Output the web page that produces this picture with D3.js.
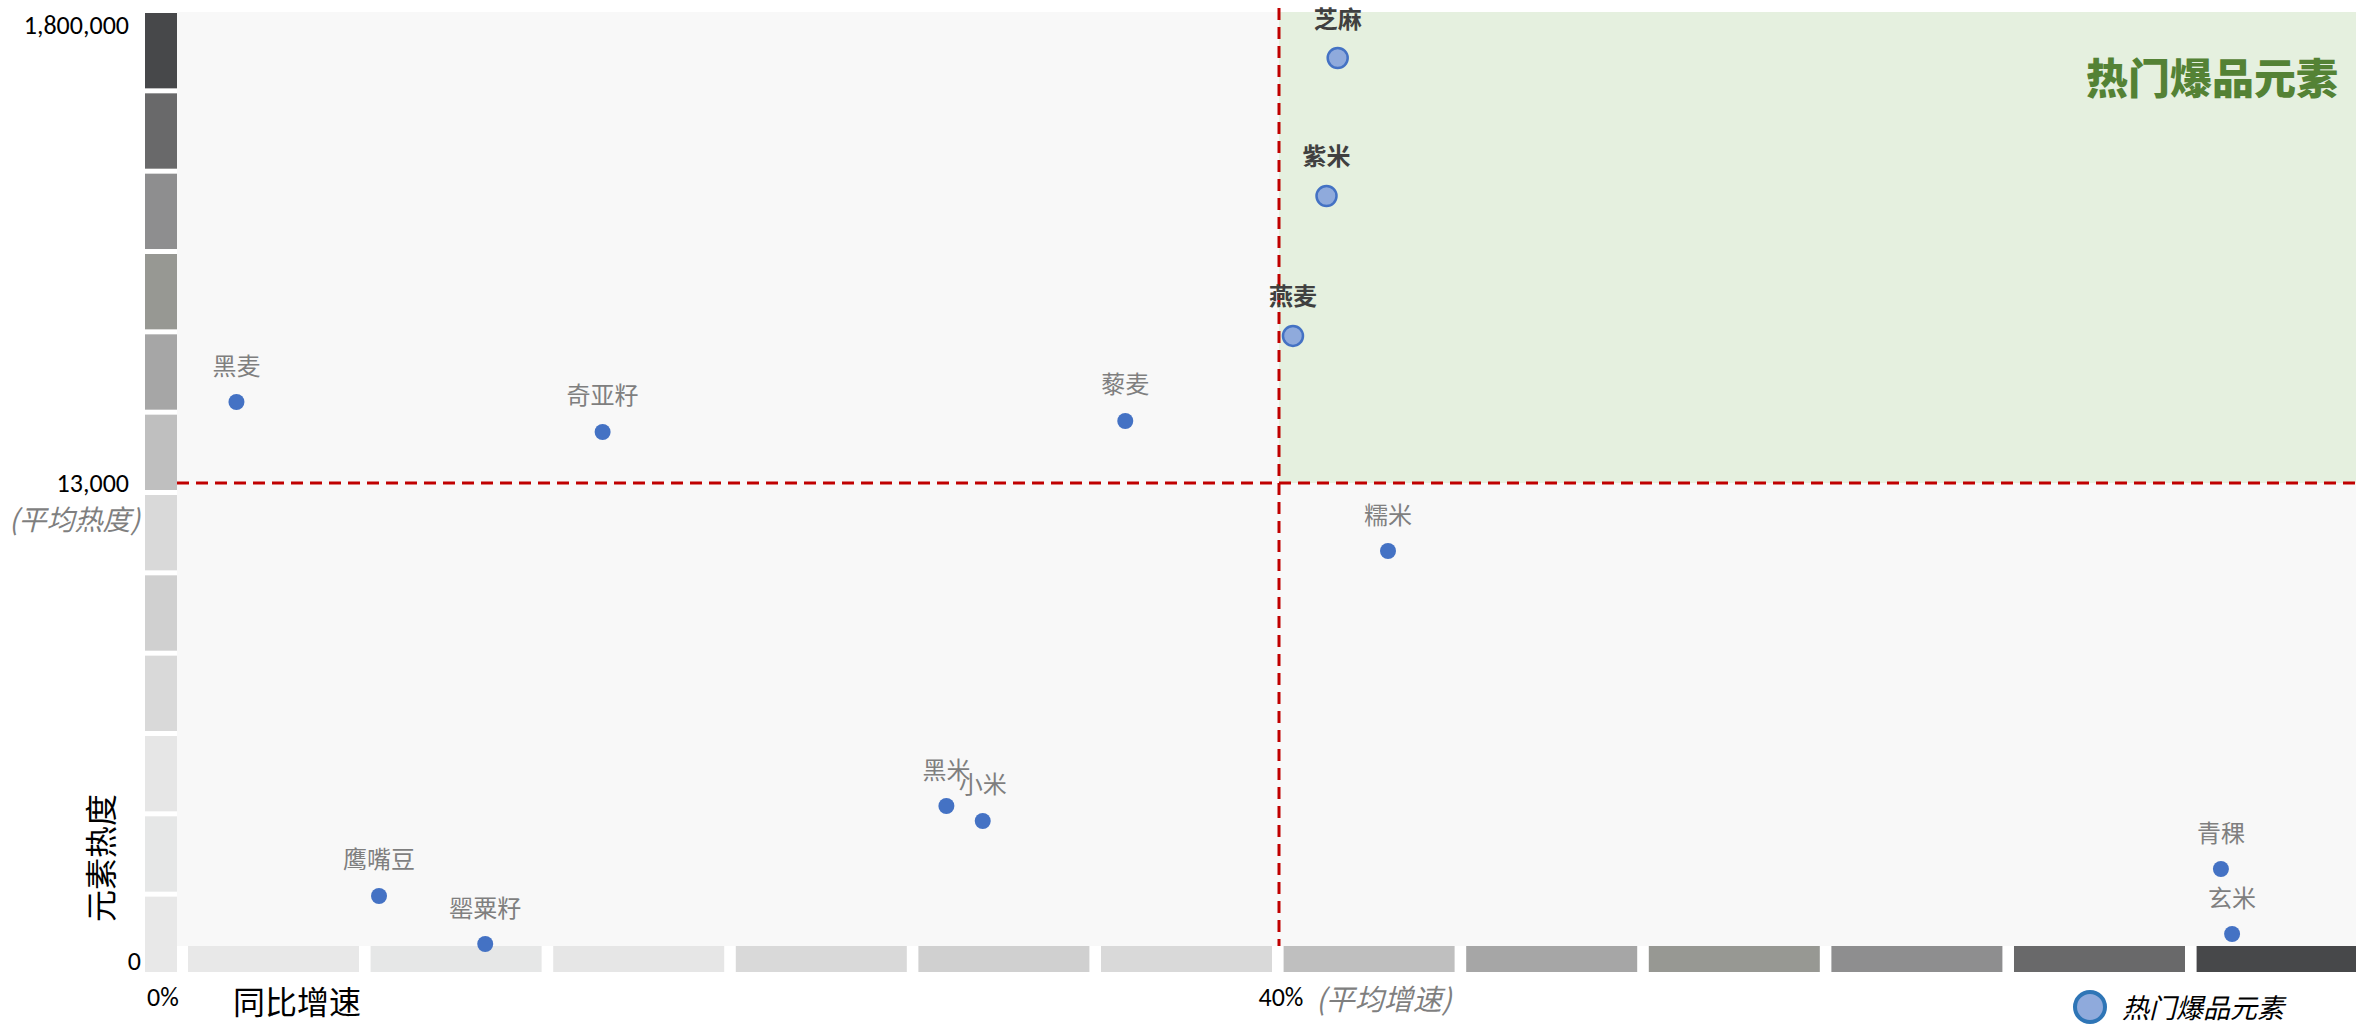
<!DOCTYPE html>
<html>
<head>
<meta charset="utf-8">
<script src="https://cdn.jsdelivr.net/npm/d3@7"></script>
<style>
  html, body { margin: 0; padding: 0; background: #ffffff; }
  svg { display: block; }
  .cjk { font-family: "Noto Sans CJK SC", "Noto Sans", sans-serif; }
  .num { font-family: Carlito, Lato, "Open Sans", sans-serif; }
</style>
</head>
<body>
<svg id="chart" width="2356" height="1025"></svg>
<script>
// ---------------- data ----------------
const names  = ["芝麻", "紫米", "燕麦", "黑麦", "奇亚籽", "藜麦", "糯米", "黑米", "小米", "鹰嘴豆", "罂粟籽", "青稞", "玄米"];
const growth = [0.421, 0.417, 0.405, 0.027, 0.158, 0.345, 0.439, 0.281, 0.294, 0.078, 0.116, 0.737, 0.741];
const heat   = [1671000, 1133000, 587000, 329000, 212000, 255000, 11150, 4215, 3808, 1768, 462, 2502, 734];

const avgGrowth = 0.4;
const avgHeat = 13000;

const yTickValues = [0, 13000, 1800000];
const yTickLabels = ["0", "13,000", "1,800,000"];
const xTickValues = [0, 0.4];
const xTickLabels = ["0%", "40%"];

const hotLabel = "热门爆品元素";
const xTitle = "同比增速";
const yTitle = "元素热度";
const avgHeatNote = "(平均热度)";
const avgGrowthNote = "(平均增速)";

// gradient strip (bottom strip left→right; left strip is the mirror, top→bottom)
const stripColors = ["#e8e8e8", "#e6e7e7", "#e6e6e6", "#d9d9d9", "#d0d0d0", "#d9d9d9",
                     "#bfbfbf", "#a6a6a6", "#979893", "#8e8e8f", "#69696a", "#47484a"];

// ---------------- layout ----------------
const plot = { left: 177, top: 12, right: 2356, bottom: 946 };

const x = d3.scaleLinear().domain([0, 0.4]).range([161, 1279]);
const y = d3.scaleLinear().domain([0, 13000, 1800000]).range([961, 483, 25]);

const svg = d3.select("#chart");

// plot background
svg.append("rect")
  .attr("x", plot.left).attr("y", plot.top)
  .attr("width", plot.right - plot.left).attr("height", plot.bottom - plot.top)
  .attr("fill", "#f8f8f8");

// hot quadrant
svg.append("rect")
  .attr("x", x(avgGrowth)).attr("y", plot.top)
  .attr("width", plot.right - x(avgGrowth)).attr("height", y(avgHeat) - plot.top)
  .attr("fill", "#e5f0df");

// left strip
const idx = d3.range(stripColors.length);
const bandY = d3.scaleBand().domain(idx).range([13, 972]).paddingInner(0.062).paddingOuter(0);
svg.append("g").selectAll("rect").data(idx).join("rect")
  .attr("x", 145).attr("width", 32)
  .attr("y", d => bandY(d)).attr("height", bandY.bandwidth())
  .attr("fill", d => stripColors[stripColors.length - 1 - d]);

// bottom strip
const bandX = d3.scaleBand().domain(idx).range([188, 2367.6]).paddingInner(0.0635).paddingOuter(0);
svg.append("g").selectAll("rect").data(idx).join("rect")
  .attr("x", d => bandX(d)).attr("width", bandX.bandwidth())
  .attr("y", 946).attr("height", 26)
  .attr("fill", d => stripColors[d]);

// average lines
svg.append("line")
  .attr("x1", x(avgGrowth)).attr("x2", x(avgGrowth))
  .attr("y1", 8).attr("y2", plot.bottom)
  .attr("stroke", "#c00000").attr("stroke-width", 3).attr("stroke-dasharray", "12,7");
svg.append("line")
  .attr("x1", plot.left).attr("x2", plot.right)
  .attr("y1", y(avgHeat)).attr("y2", y(avgHeat))
  .attr("stroke", "#c00000").attr("stroke-width", 3).attr("stroke-dasharray", "12,7");

// hot title
svg.append("text").attr("class", "cjk")
  .attr("x", 2338).attr("y", 75)
  .attr("text-anchor", "end").attr("dominant-baseline", "central")
  .attr("font-size", 42).attr("font-weight", 900).attr("fill", "#548235")
  .text(hotLabel);

// y tick labels
svg.append("g").selectAll("text").data(yTickValues).join("text")
  .attr("class", "num")
  .attr("x", (d, i) => i === 0 ? 141 : 129)
  .attr("y", d => y(d))
  .attr("text-anchor", "end").attr("dominant-baseline", "central")
  .attr("font-size", 26).attr("fill", "#000")
  .text((d, i) => yTickLabels[i]);

svg.append("text").attr("class", "cjk")
  .attr("x", 140).attr("y", y(avgHeat) + 35)
  .attr("text-anchor", "end").attr("dominant-baseline", "central")
  .attr("font-size", 28).attr("font-style", "italic").attr("fill", "#7f7f7f")
  .text(avgHeatNote);

// x tick labels
svg.append("g").selectAll("text").data(xTickValues).join("text")
  .attr("class", "num")
  .attr("x", d => x(d) + 2)
  .attr("y", 997)
  .attr("text-anchor", "middle").attr("dominant-baseline", "central")
  .attr("font-size", 26).attr("fill", "#000")
  .text((d, i) => xTickLabels[i]);

svg.append("text").attr("class", "cjk")
  .attr("x", x(avgGrowth) + 37).attr("y", 997)
  .attr("text-anchor", "start").attr("dominant-baseline", "central")
  .attr("font-size", 29).attr("font-style", "italic").attr("fill", "#7f7f7f")
  .text(avgGrowthNote);

// axis titles
svg.append("text").attr("class", "cjk")
  .attr("x", 297).attr("y", 1000)
  .attr("text-anchor", "middle").attr("dominant-baseline", "central")
  .attr("font-size", 32).attr("fill", "#000")
  .text(xTitle);

svg.append("text").attr("class", "cjk")
  .attr("transform", "translate(99,858) rotate(-90)")
  .attr("text-anchor", "middle").attr("dominant-baseline", "central")
  .attr("font-size", 32).attr("fill", "#000")
  .text(yTitle);

// points
const pts = names.map((n, i) => ({ name: n, g: growth[i], h: heat[i],
  hot: growth[i] > avgGrowth && heat[i] > avgHeat }));

const gp = svg.append("g");
gp.selectAll("circle").data(pts).join("circle")
  .attr("cx", d => x(d.g)).attr("cy", d => y(d.h))
  .attr("r", d => d.hot ? 10 : 8)
  .attr("fill", d => d.hot ? "#8faadc" : "#4472c4")
  .attr("stroke", d => d.hot ? "#4472c4" : "none")
  .attr("stroke-width", 2.5);

gp.selectAll("text").data(pts).join("text")
  .attr("class", "cjk")
  .attr("x", d => x(d.g)).attr("y", d => y(d.h) - (d.hot ? 41 : 38))
  .attr("text-anchor", "middle").attr("dominant-baseline", "central")
  .attr("font-size", 24)
  .attr("font-weight", d => d.hot ? "bold" : "normal")
  .attr("fill", d => d.hot ? "#404040" : "#7f7f7f")
  .text(d => d.name);

// legend
svg.append("circle")
  .attr("cx", 2090).attr("cy", 1007).attr("r", 15)
  .attr("fill", "#8faadc").attr("stroke", "#2e75b6").attr("stroke-width", 4);
svg.append("text").attr("class", "cjk")
  .attr("x", 2122).attr("y", 1006)
  .attr("dominant-baseline", "central")
  .attr("font-size", 27).attr("font-style", "italic").attr("fill", "#000")
  .text(hotLabel);
</script>
</body>
</html>
